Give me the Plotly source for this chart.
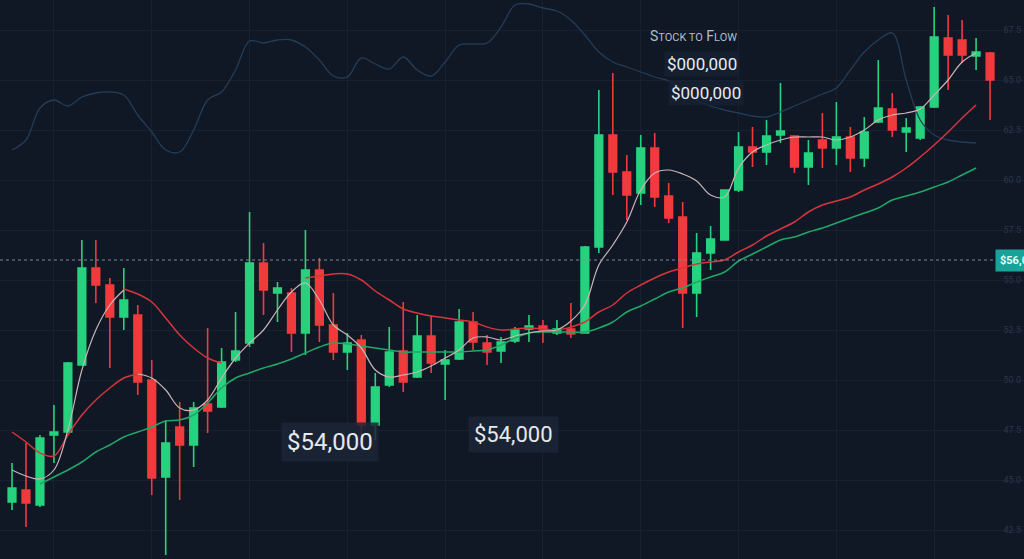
import plotly.graph_objects as go

# candle index (one per session)
days = list(range(71))

opens = [43900, 44500, 43750, 47250, 47400, 50750, 55600, 54750, 53150, 53250,
         50000, 45150, 47650, 46750, 48800, 48650, 51000, 51850, 55850, 54350,
         54350, 52350, 55500, 52750, 51400, 52000, 47750, 49750, 51450, 50150,
         52200, 50800, 51050, 52900, 51850, 51450, 51950, 52550, 52700, 52350,
         52550, 52350, 56650, 62250, 60400, 59350, 61600, 59200, 58150, 54350,
         56350, 57000, 59500, 61650, 61400, 62250, 62200, 60650, 62000, 61600,
         62150, 61100, 62900, 63550, 62400, 62100, 63650, 67100, 67000, 66200,
         66350]
highs = [45850, 46850, 47250, 48750, 50900, 57000, 57000, 55100, 55600, 53750,
         51000, 48000, 48900, 48900, 52600, 51600, 53400, 58400, 56850, 54900,
         54600, 57500, 56100, 54350, 52350, 52250, 50350, 52650, 53900, 53250,
         53200, 51500, 53550, 53400, 52250, 52150, 52650, 53250, 53000, 53000,
         53850, 56700, 64500, 65350, 61250, 62250, 62350, 59850, 58900, 57350,
         57700, 59500, 62400, 62650, 63000, 64850, 62200, 62000, 63350, 63900,
         62650, 63150, 66000, 64350, 63100, 63700, 68650, 68250, 68000, 67100,
         66400]
lows = [43500, 42650, 43650, 45850, 47400, 50750, 53850, 50600, 52500, 49250,
        44250, 41250, 44000, 45650, 47350, 48600, 50900, 51650, 53250, 52900,
        51400, 51250, 51900, 51000, 50500, 46600, 47000, 49650, 49400, 50100,
        50350, 49000, 51000, 51500, 50750, 50850, 51850, 51900, 51850, 52250,
        52100, 52350, 56350, 59250, 58000, 58750, 58650, 57850, 52600, 53150,
        55500, 57000, 59400, 60650, 60750, 61850, 60350, 59750, 60600, 60750,
        60400, 60650, 62850, 62150, 61400, 62000, 63600, 64500, 65850, 65500,
        63000]
closes = [44600, 43850, 47100, 47400, 50850, 55600, 54750, 53150, 54000, 49900,
          45100, 46850, 46750, 48600, 48450, 50900, 51450, 55850, 54500, 54600,
          52350, 55500, 52750, 51400, 51850, 47750, 49650, 51400, 49900, 52200,
          50850, 51000, 52900, 51900, 51400, 51900, 52500, 52700, 52500, 52550,
          52300, 56650, 62250, 60400, 59250, 61600, 59150, 58100, 54350, 56350,
          57050, 59500, 61650, 61400, 62200, 62450, 60650, 61350, 61600, 62150,
          61100, 62400, 63600, 62500, 62600, 63650, 67150, 66250, 66250, 66400,
          65000]

# moving averages as drawn (None where the line is not visible)
ma_fast_a = [45500, 45200, 45050, 45500, 47500, 50500, 52500, 53750, 54500] + [None] * 62
ma_fast_b = [None] * 9 + [
    50300, 50100, 49500, 48600, 48500, 49000, 50100, 51100, 51850, 52500,
    53500, 54400, 54850, 54000, 52750, 52250, 51600, 50500, 50150, 50250,
    50400, 50700, 51100, 51500, 52100, 52150, 52000, 52200, 52350, 52450,
    52500, 52950, 53750, 55750, 56750, 57900, 59500, 60350, 60500, 60300,
    59950, 59250, 59150, 60600, 61400, 61750, 62000, 62150, 62150, 62150,
    62000, 62150, 62500, 63000, 63250, 63350, 63550, 64250, 65000, 65900,
    66350] + [None]
ma_mid_a = [None] * 8 + [54550, 54300, 53900, 53100, 52250, 51600, 51100, 50850] + [None] * 5 + [
    55100, 55200, 55300, 55300, 55000, 54450, 54000, 53550, 53350, 53200,
    53100, 53000, 52900, 52650, 52500, 52550, 52600, 52550, 52500, 52650,
    52900, 53400, 53750, 54350, 54750, 55100, 55400, 55600, 55800, 55900,
    56000, 56400, 56750, 57200, 57550, 57900, 58400, 58750, 58950, 59150,
    59500, 59800, 60150, 60600, 61150, 61750, 62400, 63100, 63750] + [None]
ma_mid_b = [47400, 46900, 46350, 46200, 47250, 48250, 49000, 49600, 50100, 50300] + [None] * 61
ma_slow = [None] * 2 + [
    44800, 45150, 45500, 45900, 46400, 46750, 47150, 47400, 47650, 47950,
    48000, 48250, 48850, 49600, 50100, 50350, 50600, 50800, 51050, 51350,
    51650, 51850, 51800, 51700, 51600, 51500, 51400, 51400, 51400, 51400,
    51400, 51450, 51500, 51750, 52100, 52350, 52400, 52400, 52400, 52400,
    52600, 52900, 53400, 53700, 54050, 54400, 54600, 54900, 55150, 55400,
    55950, 56300, 56650, 57000, 57150, 57400, 57600, 57850, 58100, 58350,
    58600, 59000, 59200, 59400, 59650, 59900, 60250, 60600] + [None]

stock_to_flow = [
    61500, 62000, 63600, 64000, 63700, 64150, 64350, 64400, 64250, 63250,
    62400, 61500, 61400, 62500, 64000, 64400, 65500, 66950, 66850, 67000,
    67000, 66650, 66000, 65200, 65150, 66100, 65800, 65550, 66150, 65500,
    65200, 65900, 66750, 66800, 66850, 67650, 68750, 68800, 68600, 68450,
    68000, 67250, 66400, 65900, 65650, 65400, 65150, 64950, 64500, 64000,
    63700, 63500, 63350, 63200, 63150, 63400, 63700, 64000, 64300, 64600,
    65500, 66400, 67000, 67350, 65000, 63000, 62250, 62000, 61900, 61850, None]

last_price = 56000
axis_ticks = [42500, 45000, 47500, 50000, 52500, 55000, 57500, 60000, 62500, 65000, 67500]

GREEN = "#27d27e"
RED = "#f03a3c"

fig = go.Figure()

fig.add_trace(go.Scatter(x=days, y=stock_to_flow, mode="lines", line_shape="spline",
                         line=dict(color="#243c56", width=1.3), showlegend=False))

fig.add_trace(go.Candlestick(x=days, open=opens, high=highs, low=lows, close=closes,
                             increasing=dict(line=dict(color=GREEN, width=1.6), fillcolor=GREEN),
                             decreasing=dict(line=dict(color=RED, width=1.6), fillcolor=RED),
                             whiskerwidth=0, showlegend=False))

for vals, col, w in [(ma_slow, "#1fa866", 1.5),
                     (ma_mid_a, "#d8343c", 1.5),
                     (ma_mid_b, "#d8343c", 1.5),
                     (ma_fast_a, "#c9b4b6", 1.2),
                     (ma_fast_b, "#c9b4b6", 1.2)]:
    fig.add_trace(go.Scatter(x=days, y=vals, mode="lines", line_shape="spline",
                             line=dict(color=col, width=w), connectgaps=False,
                             showlegend=False, hoverinfo="skip"))

fig.add_hline(y=last_price, line=dict(color="#808a97", width=1, dash="dot"))

fig.update_layout(
    width=1024, height=559,
    margin=dict(l=0, r=0, t=0, b=0),
    paper_bgcolor="#101826", plot_bgcolor="#101826",
    font=dict(family="Roboto, sans-serif", color="#e4e8ee"),
    boxgap=0.22,
    showlegend=False,
)
fig.update_xaxes(range=[-0.86, 72.43], rangeslider_visible=False, showticklabels=False,
                 showgrid=True, gridcolor="#172131", gridwidth=1, dtick=7, tick0=3,
                 zeroline=False, showline=False)
fig.update_yaxes(range=[41050, 69000], side="right", ticklabelposition="inside",
                 tickvals=axis_ticks, ticktext=[f"{v / 1000:.1f}" for v in axis_ticks],
                 tickfont=dict(size=9, color="#2b3749"),
                 showgrid=True, gridcolor="#172131", gridwidth=1,
                 zeroline=False, showline=False)

box_bg = "rgba(28,38,54,0.85)"
fig.add_annotation(x=0.322, y=0.209, xref="paper", yref="paper", text="$54,000",
                   xanchor="center", yanchor="middle",
                   showarrow=False, font=dict(size=24, color="#e6e9ee"),
                   bgcolor=box_bg, borderpad=5)
fig.add_annotation(x=0.501, y=0.222, xref="paper", yref="paper", text="$54,000",
                   xanchor="center", yanchor="middle",
                   showarrow=False, font=dict(size=22, color="#e6e9ee"),
                   bgcolor=box_bg, borderpad=5)
fig.add_annotation(x=0.677, y=0.936, xref="paper", yref="paper",
                   text="S<span style='font-size:11px'>TOCK TO</span> F<span style='font-size:11px'>LOW</span>",
                   xanchor="center", yanchor="middle",
                   showarrow=False, font=dict(size=14, color="#b4bec9"))
fig.add_annotation(x=0.686, y=0.886, xref="paper", yref="paper", text="$000,000",
                   xanchor="center", yanchor="middle",
                   showarrow=False, font=dict(size=17, color="#e8ecf0"),
                   bgcolor="rgba(24,34,50,0.8)", borderpad=2)
fig.add_annotation(x=0.689, y=0.834, xref="paper", yref="paper", text="$000,000",
                   xanchor="center", yanchor="middle",
                   showarrow=False, font=dict(size=17, color="#e8ecf0"),
                   bgcolor="rgba(24,34,50,0.8)", borderpad=2)
fig.add_annotation(x=0.972, y=last_price, xref="paper", yref="y", xanchor="left",
                   text="<b>$56,000</b>", showarrow=False,
                   font=dict(size=11, color="#e8fff9"), bgcolor="#17a397", borderpad=4)

fig.write_html("out.html", config={"displayModeBar": False},
               post_script="document.body.style.margin='0';")
